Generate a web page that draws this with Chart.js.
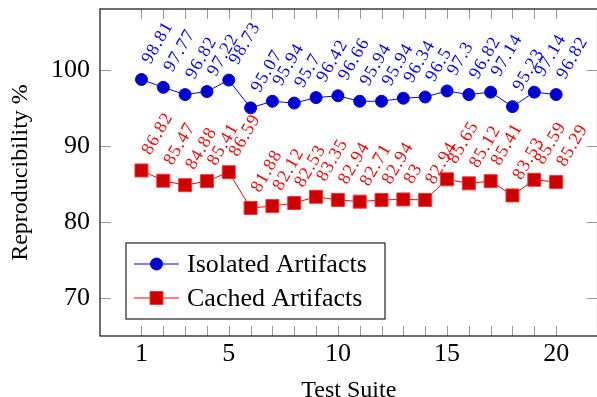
<!DOCTYPE html>
<html>
<head>
<meta charset="utf-8">
<script src="https://cdn.jsdelivr.net/npm/chart.js@4/dist/chart.umd.min.js"></script>
<style>
html, body { margin: 0; padding: 0; background: #fff; overflow: hidden; }
#wrap { width: 600px; height: 397px; }
</style>
</head>
<body>
<div id="wrap"><canvas id="myChart" width="600" height="397"></canvas></div>
<script>
// data
var suites = [1, 2, 3, 4, 5, 6, 7, 8, 9, 10, 11, 12, 13, 14, 15, 16, 17, 18, 19, 20];
var isolated = [98.81, 97.77, 96.82, 97.22, 98.73, 95.07, 95.94, 95.7, 96.42, 96.66,
                95.94, 95.94, 96.34, 96.5, 97.3, 96.82, 97.14, 95.23, 97.14, 96.82];
var cached = [86.82, 85.47, 84.88, 85.41, 86.59, 81.88, 82.12, 82.53, 83.35, 82.94,
              82.71, 82.94, 83, 82.94, 85.65, 85.12, 85.41, 83.53, 85.59, 85.29];
var xTicks = [1, 5, 10, 15, 20];
var yTicks = [70, 80, 90, 100];

var serif = '"Liberation Serif", "Times New Roman", serif';

function toPoints(vals) {
    return vals.map(function(v, i) { return { x: suites[i], y: v }; });
}

// frame + inward ticks like pgfplots
var framePlugin = {
    id: 'frame',
    beforeDatasetsDraw: function(chart) {
        var ctx = chart.ctx, a = chart.chartArea;
        var xs = chart.scales.x, ys = chart.scales.y;
        ctx.save();
        ctx.strokeStyle = '#999';
        ctx.lineWidth = 1;
        ctx.beginPath();
        suites.forEach(function(s) {
            var px = Math.round(xs.getPixelForValue(s)) + 0.5;
            ctx.moveTo(px, a.bottom); ctx.lineTo(px, a.bottom - 10);
            ctx.moveTo(px, a.top); ctx.lineTo(px, a.top + 10);
        });
        yTicks.forEach(function(t) {
            var py = Math.round(ys.getPixelForValue(t)) + 0.5;
            ctx.moveTo(a.left, py); ctx.lineTo(a.left + 11, py);
            ctx.moveTo(a.right, py); ctx.lineTo(a.right - 11, py);
        });
        ctx.stroke();
        ctx.strokeStyle = '#222';
        ctx.lineWidth = 1.3;
        ctx.strokeRect(a.left, a.top, a.right - a.left, a.bottom - a.top);
        ctx.restore();
    }
};

// rotated value labels above each point
var labelPlugin = {
    id: 'valueLabels',
    afterDatasetsDraw: function(chart) {
        var ctx = chart.ctx;
        ctx.save();
        ctx.font = '18px ' + serif;
        ctx.letterSpacing = '1px';
        ctx.textAlign = 'left';
        ctx.textBaseline = 'middle';
        chart.data.datasets.forEach(function(ds, di) {
            var meta = chart.getDatasetMeta(di);
            ctx.fillStyle = ds.labelColor;
            meta.data.forEach(function(pt, i) {
                ctx.save();
                ctx.translate(pt.x + 5, pt.y - 17);
                ctx.rotate(-Math.PI / 3);
                ctx.fillText(String(ds.data[i].y), 0, 0);
                ctx.restore();
            });
        });
        ctx.restore();
    }
};

// pgfplots-style legend box
var legendPlugin = {
    id: 'boxLegend',
    afterDraw: function(chart) {
        var ctx = chart.ctx;
        var bx = 126, by = 243, bw = 259, bh = 76;
        ctx.save();
        ctx.fillStyle = '#fff';
        ctx.fillRect(bx, by, bw, bh);
        ctx.strokeStyle = '#222';
        ctx.lineWidth = 1.2;
        ctx.strokeRect(bx, by, bw, bh);
        ctx.font = '26px ' + serif;
        ctx.textBaseline = 'middle';
        ctx.textAlign = 'left';
        chart.data.datasets.forEach(function(ds, i) {
            var y = by + 21 + i * 34;
            ctx.strokeStyle = ds.borderColor;
            ctx.lineWidth = 1;
            ctx.beginPath();
            ctx.moveTo(134, y); ctx.lineTo(179, y);
            ctx.stroke();
            ctx.fillStyle = ds.pointBackgroundColor;
            ctx.strokeStyle = ds.pointBorderColor;
            ctx.beginPath();
            if (ds.pointStyle === 'rect') {
                ctx.rect(156.5 - 6.5, y - 6.5, 13, 13);
            } else {
                ctx.arc(156.5, y, 6, 0, Math.PI * 2);
            }
            ctx.fill();
            ctx.stroke();
            ctx.fillStyle = '#000';
            ctx.fillText(ds.label, 187, y + 1);
        });
        ctx.restore();
    }
};

var ctx = document.getElementById('myChart').getContext('2d');

var myChart = new Chart(ctx, {
    type: 'line',
    data: {
        datasets: [
            {
                label: 'Isolated Artifacts',
                data: toPoints(isolated),
                borderColor: '#0000ff',
                borderWidth: 1,
                pointStyle: 'circle',
                pointRadius: 6,
                pointBackgroundColor: '#0000cc',
                pointBorderColor: '#0000ff',
                pointBorderWidth: 1,
                labelColor: '#0000ff',
                tension: 0
            },
            {
                label: 'Cached Artifacts',
                data: toPoints(cached),
                borderColor: '#ff0000',
                borderWidth: 1,
                pointStyle: 'rect',
                pointRadius: 9.2,
                pointBackgroundColor: '#cc0000',
                pointBorderColor: '#ff3333',
                pointBorderWidth: 1,
                labelColor: '#ff0000',
                tension: 0
            }
        ]
    },
    options: {
        responsive: false,
        animation: false,
        layout: { autoPadding: false, padding: { top: 9, right: 2.4, left: 0, bottom: 0 } },
        plugins: {
            legend: { display: false },
            tooltip: { enabled: false }
        },
        scales: {
            x: {
                type: 'linear',
                min: -0.9,
                max: 21.9,
                afterBuildTicks: function(axis) {
                    axis.ticks = xTicks.map(function(v) { return { value: v }; });
                },
                afterFit: function(axis) {
                    axis.height = 61;
                    axis.paddingLeft = 0;
                    axis.paddingRight = 0;
                },
                grid: { display: false, drawTicks: false },
                border: { display: false },
                ticks: {
                    color: '#000',
                    font: { family: serif, size: 26 },
                    padding: 3,
                    maxRotation: 0
                },
                title: {
                    display: true,
                    text: 'Test Suite',
                    color: '#000',
                    font: { family: serif, size: 24, lineHeight: 0.5 },
                    padding: { top: 0, bottom: 0 }
                }
            },
            y: {
                min: 65,
                max: 108.1,
                afterBuildTicks: function(axis) {
                    axis.ticks = yTicks.map(function(v) { return { value: v }; });
                },
                afterFit: function(axis) {
                    axis.width = 100;
                    axis.paddingTop = 0;
                    axis.paddingBottom = 0;
                },
                grid: { display: false, drawTicks: false },
                border: { display: false },
                ticks: {
                    color: '#000',
                    font: { family: serif, size: 26 },
                    padding: 10
                },
                title: {
                    display: true,
                    text: 'Reproducibility %',
                    color: '#000',
                    font: { family: serif, size: 24 },
                    padding: { top: 6, bottom: 0 }
                }
            }
        }
    },
    plugins: [framePlugin, labelPlugin, legendPlugin]
});
</script>
</body>
</html>
